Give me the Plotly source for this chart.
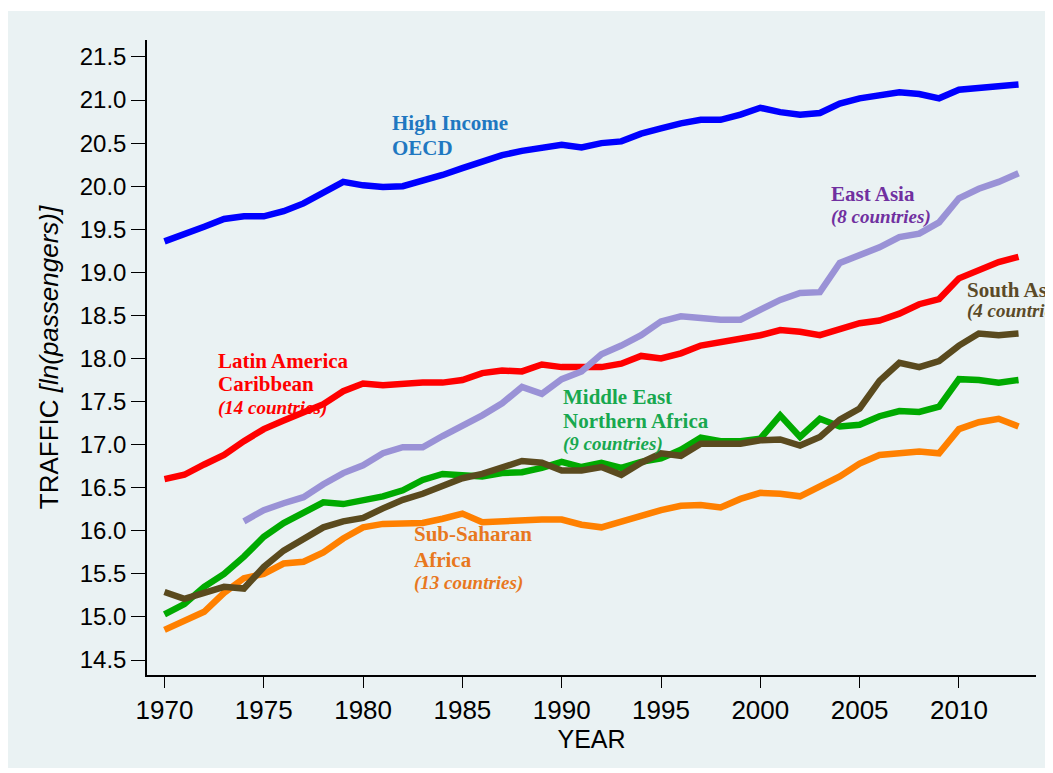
import plotly.graph_objects as go

years = list(range(1970, 2014))
years_ea = list(range(1974, 2014))

high_income_oecd = [19.36, 19.44, 19.53, 19.62, 19.65, 19.65, 19.71, 19.80, 19.92, 20.05,
                    20.01, 19.99, 20.00, 20.06, 20.13, 20.21, 20.29, 20.36, 20.41, 20.44,
                    20.48, 20.45, 20.50, 20.52, 20.61, 20.67, 20.73, 20.77, 20.77, 20.83,
                    20.91, 20.86, 20.83, 20.85, 20.96, 21.02, 21.05, 21.09, 21.07, 21.02,
                    21.12, 21.14, 21.15, 21.18]

latin_america = [16.60, 16.65, 16.77, 16.88, 17.04, 17.18, 17.28, 17.38, 17.47, 17.62,
                 17.71, 17.69, 17.71, 17.72, 17.72, 17.75, 17.83, 17.86, 17.85, 17.93,
                 17.90, 17.90, 17.90, 17.94, 18.03, 18.00, 18.06, 18.15, 18.19, 18.23,
                 18.27, 18.33, 18.31, 18.27, 18.35, 18.41, 18.44, 18.52, 18.63, 18.69,
                 18.93, 19.03, 19.12, 19.18]

middle_east = [15.03, 15.15, 15.35, 15.50, 15.70, 15.93, 16.09, 16.22, 16.33, 16.31,
               16.36, 16.40, 16.47, 16.59, 16.66, 16.65, 16.63, 16.67, 16.68, 16.73,
               16.80, 16.74, 16.79, 16.73, 16.80, 16.84, 16.94, 17.08, 17.04, 17.04,
               17.07, 17.34, 17.09, 17.30, 17.21, 17.23, 17.33, 17.39, 17.38, 17.44,
               17.76, 17.75, 17.72, 17.75]

sub_saharan = [14.85, 14.96, 15.06, 15.28, 15.45, 15.50, 15.62, 15.64, 15.75, 15.91,
               16.04, 16.08, 16.08, 16.09, 16.14, 16.20, 16.10, 16.11, 16.13, 16.13,
               16.13, 16.07, 16.04, 16.11, 16.18, 16.24, 16.29, 16.30, 16.27, 16.37,
               16.44, 16.43, 16.40, 16.51, 16.63, 16.78, 16.88, 16.90, 16.92, 16.90,
               17.18, 17.26, 17.30, 17.21]

south_asia = [15.29, 15.21, 15.28, 15.35, 15.33, 15.58, 15.77, 15.90, 16.04, 16.11,
              16.15, 16.26, 16.36, 16.43, 16.53, 16.61, 16.66, 16.73, 16.81, 16.79,
              16.70, 16.70, 16.74, 16.65, 16.79, 16.90, 16.87, 17.01, 17.01, 17.01,
              17.05, 17.06, 16.99, 17.09, 17.29, 17.42, 17.74, 17.95, 17.90, 17.97,
              18.15, 18.29, 18.27, 18.29]

east_asia = [16.11, 16.24, 16.32, 16.39, 16.54, 16.67, 16.76, 16.90, 16.97, 16.97,
             17.10, 17.21, 17.34, 17.48, 17.67, 17.59, 17.76, 17.85, 18.05, 18.15,
             18.27, 18.43, 18.49, 18.47, 18.45, 18.45, 18.56, 18.68, 18.76, 18.77,
             19.11, 19.19, 19.29, 19.41, 19.45, 19.58, 19.86, 19.97, 20.05, 20.15]

y_ticks = [14.5, 15.0, 15.5, 16.0, 16.5, 17.0, 17.5, 18.0, 18.5, 19.0, 19.5, 20.0, 20.5, 21.0, 21.5]
x_ticks = [1970, 1975, 1980, 1985, 1990, 1995, 2000, 2005, 2010]

series = [
    ("High Income OECD", years, high_income_oecd, "#0000ff"),
    ("Latin America Caribbean", years, latin_america, "#ff0000"),
    ("Middle East Northern Africa", years, middle_east, "#00aa00"),
    ("Sub-Saharan Africa", years, sub_saharan, "#ff8000"),
    ("South Asia", years, south_asia, "#5a4a1e"),
    ("East Asia", years_ea, east_asia, "#9a92d6"),
]

fig = go.Figure()
for name, xs, ys, col in series:
    fig.add_trace(go.Scatter(x=xs, y=ys, mode="lines", name=name,
                             line=dict(color=col, width=6.5)))

serif = "Liberation Serif"
labels = [
    # (text, x, y, color, italic)
    ("<b>High Income</b>", 1981.35, 20.733, "#1f78c1", False),
    ("<b>OECD</b>", 1981.35, 20.447, "#1f78c1", False),
    ("<b>East Asia</b>", 2003.45, 19.905, "#7030a0", False),
    ("<b><i>(8 countries)</i></b>", 2003.45, 19.645, "#7030a0", True),
    ("<b>South Asia</b>", 2010.3, 18.80, "#5b4a28", False),
    ("<b><i>(4 countries)</i></b>", 2010.3, 18.55, "#5b4a28", True),
    ("<b>Latin America</b>", 1972.58, 17.973, "#ff0000", False),
    ("<b>Caribbean</b>", 1972.58, 17.700, "#ff0000", False),
    ("<b><i>(14 countries)</i></b>", 1972.58, 17.430, "#ff0000", True),
    ("<b>Middle East</b>", 1989.95, 17.548, "#18a84f", False),
    ("<b>Northern Africa</b>", 1989.95, 17.272, "#18a84f", False),
    ("<b><i>(9 countries)</i></b>", 1989.95, 17.002, "#18a84f", True),
    ("<b>Sub-Saharan</b>", 1982.44, 15.960, "#e8781e", False),
    ("<b>Africa</b>", 1982.44, 15.666, "#e8781e", False),
    ("<b><i>(13 countries)</i></b>", 1982.44, 15.399, "#e8781e", True),
]
for text, x, y, col, ital in labels:
    fig.add_annotation(x=x, y=y, xref="x", yref="y", text=text, showarrow=False,
                       xanchor="left", yanchor="middle",
                       font=dict(family=serif, size=19 if ital else 21, color=col))

# light outer background panel
fig.add_shape(type="rect", xref="paper", yref="paper",
              x0=-0.1575, x1=1.0169, y0=-0.1465, y1=1.0457,
              fillcolor="#eaf2f3", line=dict(width=0), layer="below")

sans = "Liberation Sans"
fig.update_layout(
    width=1053, height=773, autosize=False,
    margin=dict(l=139, r=25, t=32, b=106),
    paper_bgcolor="white", plot_bgcolor="white",
    showlegend=False,
    font=dict(family=sans, color="black"),
    xaxis=dict(range=[1969.12, 2013.88], tickvals=x_ticks, ticks="outside", ticklen=11,
               tickwidth=1, tickcolor="black", showline=True, linecolor="black", linewidth=1.5,
               showgrid=False, zeroline=False, tickfont=dict(size=26),
               title=dict(text="YEAR", font=dict(size=25), standoff=4)),
    yaxis=dict(range=[14.326, 21.697], tickvals=y_ticks, ticktext=[f"{v:.1f}" for v in y_ticks],
               ticks="outside", ticklen=14, tickwidth=1, tickcolor="black",
               showline=True, linecolor="black", linewidth=1.5,
               showgrid=True, gridcolor="#eaf2f3", gridwidth=2, zeroline=False,
               tickfont=dict(size=24),
               title=dict(text="TRAFFIC <i>[ln(passengers)]</i>", font=dict(size=26), standoff=14)),
)

fig.write_html("out.html")
